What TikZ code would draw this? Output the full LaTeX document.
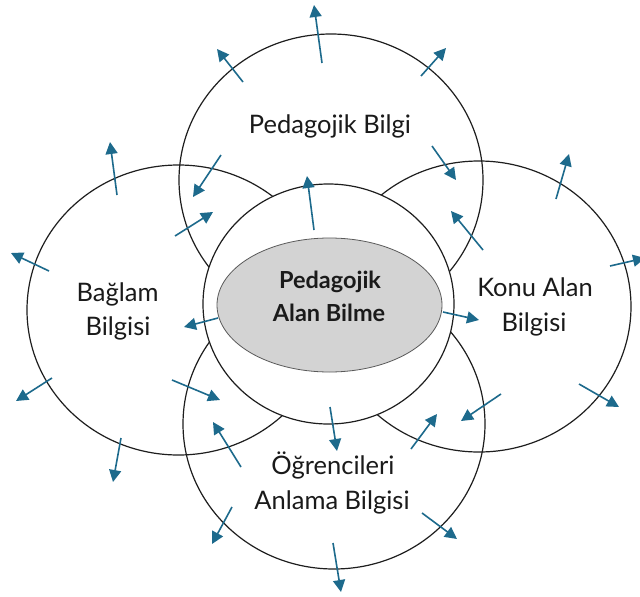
\documentclass[tikz,border=0pt]{standalone}
\usepackage{fontspec}
\setmainfont{Lato}
\usetikzlibrary{arrows.meta,shapes.geometric}
\definecolor{flowblue}{HTML}{1D6A8C}
\definecolor{ringline}{HTML}{1E1E1E}
\definecolor{coregray}{HTML}{D3D3D3}
\definecolor{coreline}{HTML}{5A5A5A}
\definecolor{textdark}{HTML}{1A1A1A}
\tikzset{
  ring/.style={ellipse, draw=ringline, line width=1.2pt, inner sep=0pt, outer sep=0pt},
  outflow/.style={draw=flowblue, line width=1.6pt, -{Triangle[length=12pt,width=12pt]}},
  ringtext/.style={anchor=base, inner sep=0pt, text=textdark, font=\fontsize{25.5}{30}\selectfont},
  coretext/.style={anchor=base, inner sep=0pt, text=textdark, font=\fontsize{23.5}{28}\selectfont\bfseries},
}
\begin{document}
\begin{tikzpicture}[x=1pt,y=-1pt]
\useasboundingbox (0,0) rectangle (640,597);
\fill[white] (0,0) rectangle (640,597);

% four outer knowledge rings (outlines only)
\node[ring, minimum width=304pt, minimum height=292pt] (pedring) at (331,180) {};
\node[ring, minimum width=303pt, minimum height=290pt] (ctxring) at (178.5,310) {};
\node[ring, minimum width=304pt, minimum height=291pt] (conring) at (479,306.5) {};
\node[ring, minimum width=302pt, minimum height=290pt] (stuqring) at (334,424) {};

% central ring covers the overlaps
\node[ring, fill=white, minimum width=251pt, minimum height=240pt] (midring) at (328.5,304) {};

% core
\node[ellipse, draw=coreline, line width=0.8pt, fill=coregray, inner sep=0pt,
      minimum width=225pt, minimum height=134pt] (core) at (329.5,305) {};

% arrows radiating between the rings
\foreach \ax/\ay/\bx/\by in {
  322/63/314/5, 243/82/217/49, 421/76/446/48, 221/155/193/197, 432/146/456/180,
  314/230/307/176, 117/195/110/142, 49/271/11/253, 175/236/213/212,
  218/318/184/327, 52/378/16/401, 172/380/220/400, 241/467/213/422,
  121/438/113/482, 556/199/569/154, 483/250/451/211, 610/266/645/258,
  443/312/479/320, 579/384/619/407, 501/394/461/421, 411/449/437/414,
  330/407/337/451, 232/507/212/544, 422/513/457/539, 333/543/341/592}
  \draw[outflow] (\ax,\ay) -- (\bx,\by);

% ring titles
\node[ringtext] (pedt) at (330,133) {Pedagojik Bilgi};
\node[ringtext] (ctxa) at (117.5,301.5) {Bağlam};
\node[ringtext] (ctxb) at (118,335) {Bilgisi};
\node[ringtext] (cona) at (535,296.5) {Konu Alan};
\node[ringtext] (conb) at (534,331.5) {Bilgisi};
\node[ringtext] (stua) at (333,474) {Öğrencileri};
\node[ringtext] (stub) at (332,509) {Anlama Bilgisi};

% core title
\node[coretext] (corea) at (330,288) {Pedagojik};
\node[coretext] (coreb) at (329,321) {Alan Bilme};
\end{tikzpicture}
\end{document}
